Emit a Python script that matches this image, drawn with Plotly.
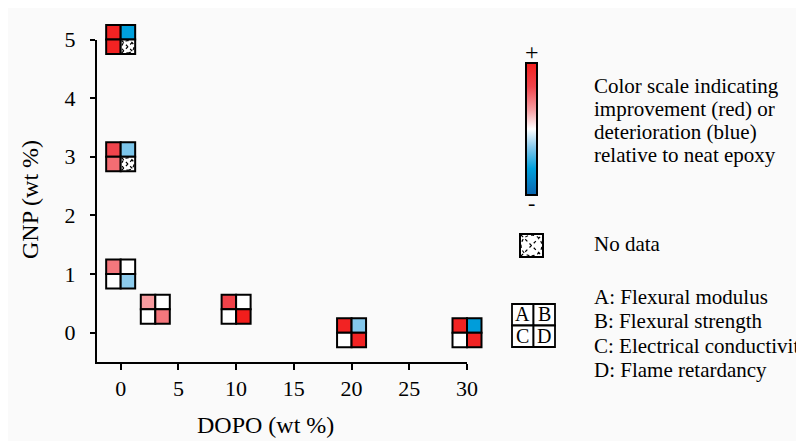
import plotly.graph_objects as go

# ---------------- data ----------------
dopo = [0, 0, 0, 3, 10, 20, 30]            # DOPO (wt %)
gnp = [5, 3, 1, 0.4, 0.4, 0, 0]             # GNP (wt %)
# relative change vs neat epoxy, -1 (deterioration) .. +1 (improvement); None = no data
flexural_modulus = [0.95, 0.64, 0.44, 0.30, 0.66, 0.95, 0.95]          # A
flexural_strength = [-0.60, -0.30, 0.0, 0.0, 0.0, -0.28, -0.62]        # B
electrical_conductivity = [0.95, 0.48, 0.0, 0.0, 0.0, 0.0, 0.0]        # C
flame_retardancy = [None, None, -0.26, 0.44, 1.0, 0.95, 0.95]          # D

x_ticks = [0, 5, 10, 15, 20, 25, 30]
y_ticks = [0, 1, 2, 3, 4, 5]
x_title = "DOPO (wt %)"
y_title = "GNP (wt %)"
scale_text = ["Color scale indicating", "improvement (red) or",
              "deterioration (blue)", "relative to neat epoxy"]
nodata_text = "No data"
key_letters = ["A", "B", "C", "D"]
key_text = ["A: Flexural modulus", "B: Flexural strength",
            "C: Electrical conductivity", "D: Flame retardancy"]

# ---------------- style ----------------
FONT = "Liberation Serif"
W, H = 804, 441
BG = "#fafafa"
X_PX = (89, 459)        # left/right pixel of x axis (figure coords)
Y_PX = (354, 31.5)      # bottom/top pixel of y axis
X_RANGE = [-2.05, 30]
Y_RANGE = [-0.5, 5]

COLORSCALE = [
    [0.0, "rgb(10,100,174)"],
    [0.2, "rgb(0,160,220)"],
    [0.36, "rgb(132,200,236)"],
    [0.5, "rgb(255,255,255)"],
    [0.64, "rgb(247,160,164)"],
    [0.82, "rgb(240,68,76)"],
    [1.0, "rgb(242,30,28)"],
]


def parse(c):
    return [float(v) for v in c[c.index("(") + 1:-1].split(",")]


def value_color(v):
    p = (v + 1) / 2
    p = min(max(p, 0), 1)
    for (p0, c0), (p1, c1) in zip(COLORSCALE[:-1], COLORSCALE[1:]):
        if p0 <= p <= p1:
            t = 0 if p1 == p0 else (p - p0) / (p1 - p0)
            a, b = parse(c0), parse(c1)
            r = [round(a[i] + (b[i] - a[i]) * t) for i in range(3)]
            return f"rgb({r[0]},{r[1]},{r[2]})"
    return COLORSCALE[-1][1]


def rect(xref, yref, ax, ay, x0, x1, y0, y1, fill, lw=2):
    return dict(type="rect", xref=xref, yref=yref, xsizemode="pixel", ysizemode="pixel",
                xanchor=ax, yanchor=ay, x0=x0, x1=x1, y0=y0, y1=y1,
                fillcolor=fill, line=dict(color="black", width=lw), layer="above")


def hatch(xref, yref, ax, ay, x0, x1, y0, y1):
    xm, ym = (x0 + x1) / 2, (y0 + y1) / 2
    path = (f"M{x0},{y0} L{x1},{y1} M{x0},{y1} L{x1},{y0} "
            f"M{xm},{y0} Q{x1 - 1},{y0 + 1} {x1},{ym} Q{x1 - 1},{y1 - 1} {xm},{y1} "
            f"Q{x0 + 1},{y1 - 1} {x0},{ym} Q{x0 + 1},{y0 + 1} {xm},{y0}")
    return dict(type="path", xref=xref, yref=yref, xsizemode="pixel", ysizemode="pixel",
                xanchor=ax, yanchor=ay, path=path, fillcolor="rgba(0,0,0,0)",
                line=dict(color="black", width=1.2, dash="dot"), layer="above")


def px(x):
    return x / W


def py(y):
    return 1 - y / H


# hidden full-paper axes sharing the visible axes' scale (so glyphs are not clipped)
kx = (X_PX[1] - X_PX[0]) / (X_RANGE[1] - X_RANGE[0])
ky = (Y_PX[0] - Y_PX[1]) / (Y_RANGE[1] - Y_RANGE[0])
x2_range = [X_RANGE[0] - X_PX[0] / kx, X_RANGE[0] + (W - X_PX[0]) / kx]
y2_range = [Y_RANGE[0] - (H - Y_PX[0]) / ky, Y_RANGE[1] + Y_PX[1] / ky]

shapes = []
S = 14.5
quadrants = [(-S, 0, 0, S), (0, S, 0, S), (-S, 0, -S, 0), (0, S, -S, 0)]  # A, B, C, D
for i in range(len(dopo)):
    vals = [flexural_modulus[i], flexural_strength[i], electrical_conductivity[i], flame_retardancy[i]]
    for (x0, x1, y0, y1), v in zip(quadrants, vals):
        fill = "white" if v is None else value_color(v)
        shapes.append(rect("x2", "y2", dopo[i], gnp[i], x0, x1, y0, y1, fill))
        if v is None:
            shapes.append(hatch("x2", "y2", dopo[i], gnp[i], x0 + 1, x1 - 1, y0 + 1, y1 - 1))

# legend: no-data icon
ndx, ndy = px(523.5), py(237.5)
shapes.append(rect("paper", "paper", ndx, ndy, -11.5, 11.5, -11.5, 11.5, "white"))
shapes.append(hatch("paper", "paper", ndx, ndy, -10.5, 10.5, -10.5, 10.5))

# legend: ABCD key
kxp, kyp = px(525.5), py(317.5)
K = 21.5
key_quads = [(-K, 0, 0, K), (0, K, 0, K), (-K, 0, -K, 0), (0, K, -K, 0)]
annotations = []
for (x0, x1, y0, y1), letter in zip(key_quads, key_letters):
    shapes.append(rect("paper", "paper", kxp, kyp, x0, x1, y0, y1, "white", lw=1.8))
    annotations.append(dict(text=letter, xref="paper", yref="paper", x=kxp, y=kyp,
                            xshift=(x0 + x1) / 2, yshift=(y0 + y1) / 2 + 0.5,
                            showarrow=False, xanchor="center", yanchor="middle",
                            font=dict(family=FONT, size=20, color="black")))

# text annotations
txt = dict(showarrow=False, xref="paper", yref="paper", yanchor="middle")
for j, t in enumerate(scale_text):
    annotations.append(dict(text=t, x=px(584), y=py(78 + 23 * j), xanchor="left",
                            font=dict(family=FONT, size=21, color="black"), **txt))
annotations.append(dict(text=nodata_text, x=px(584), y=py(236), xanchor="left",
                        font=dict(family=FONT, size=21, color="black"), **txt))
for j, t in enumerate(key_text):
    annotations.append(dict(text=t, x=px(584), y=py(289 + 24.3 * j), xanchor="left",
                            font=dict(family=FONT, size=21, color="black"), **txt))
annotations.append(dict(text="+", x=px(523.5), y=py(44), xanchor="center",
                        font=dict(family=FONT, size=24, color="black"), **txt))
annotations.append(dict(text="-", x=px(523.5), y=py(194), xanchor="center",
                        font=dict(family=FONT, size=22, color="black"), **txt))
# axis titles
annotations.append(dict(text=x_title, x=px(257), y=py(417), xanchor="center",
                        font=dict(family=FONT, size=24, color="black"), **txt))
annotations.append(dict(text=y_title, x=px(22), y=py(192), xanchor="center", textangle=-90,
                        font=dict(family=FONT, size=24, color="black"), **txt))

fig = go.Figure()
# dummy trace that carries the colour bar
fig.add_trace(go.Scatter(
    x=[None], y=[None], xaxis="x2", yaxis="y2", mode="markers", hoverinfo="skip",
    showlegend=False,
    marker=dict(color=[0], cmin=-1, cmax=1, colorscale=COLORSCALE, showscale=True,
                colorbar=dict(x=px(517.5), xanchor="left", xpad=0, ypad=0,
                              y=py(121), yanchor="middle",
                              lenmode="pixels", len=132, thickness=11,
                              outlinecolor="black", outlinewidth=2,
                              showticklabels=False, ticks=""))))
# visible-axis anchor trace (no marks)
fig.add_trace(go.Scatter(x=[None], y=[None], mode="markers", showlegend=False, hoverinfo="skip"))

axis_common = dict(showgrid=False, zeroline=False, showline=True, linecolor="black", linewidth=2,
                   ticks="outside", tickcolor="black", tickwidth=2,
                   tickfont=dict(family=FONT, size=22, color="black"), fixedrange=True)
fig.update_layout(
    width=W, height=H, autosize=False,
    margin=dict(l=0, r=0, t=0, b=0, pad=0, autoexpand=False),
    paper_bgcolor=BG, plot_bgcolor="rgba(0,0,0,0)",
    showlegend=False,
    xaxis=dict(domain=[px(X_PX[0]), px(X_PX[1])], range=X_RANGE, anchor="y",
               tickvals=x_ticks, ticklen=6, **axis_common),
    yaxis=dict(domain=[py(Y_PX[0]), py(Y_PX[1])], range=Y_RANGE, anchor="x",
               tickvals=y_ticks, ticklen=5, ticklabelstandoff=10, **axis_common),
    xaxis2=dict(domain=[0, 1], range=x2_range, anchor="y2", visible=False, fixedrange=True),
    yaxis2=dict(domain=[0, 1], range=y2_range, anchor="x2", visible=False, fixedrange=True),
    shapes=shapes,
    annotations=annotations,
)

fig.write_html("out.html")
